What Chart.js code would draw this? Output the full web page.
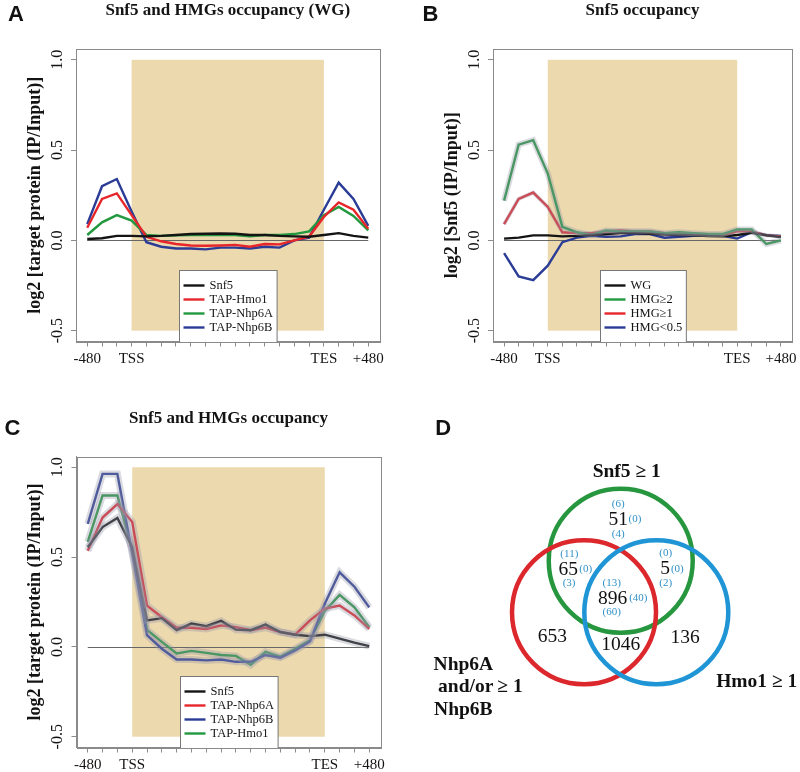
<!DOCTYPE html>
<html>
<head>
<meta charset="utf-8">
<script src="https://cdn.jsdelivr.net/npm/chart.js@4.4.1/dist/chart.umd.min.js"></script>
<style>
  body { margin: 0; background: #fff; width: 800px; height: 772px; position: relative; overflow: hidden; }
  canvas { position: absolute; }
</style>
</head>
<body>
<canvas id="chartA" width="400" height="385" style="left:0;top:0"></canvas>
<canvas id="chartB" width="400" height="385" style="left:400px;top:0"></canvas>
<canvas id="chartC" width="400" height="387" style="left:0;top:385px"></canvas>
<canvas id="chartD" width="400" height="387" style="left:400px;top:385px"></canvas>
<script>
// DATA
const binLabels = ["-480", "", "", "TSS", "", "", "", "", "", "", "", "", "", "", "", "", "TES", "", "", "+480"];
const yTickValues = [-0.5, 0, 0.5, 1.0];
const geneBody = { from: 3, to: 16, top: 1.0, bottom: -0.5 };

// A: Snf5 and HMGs occupancy (WG)
const aSnf5 = [0.008, 0.012, 0.025, 0.025, 0.022, 0.025, 0.03, 0.035, 0.037, 0.038, 0.037, 0.03, 0.03, 0.025, 0.022, 0.02, 0.03, 0.04, 0.025, 0.015];
const aHmo1 = [0.07, 0.23, 0.26, 0.14, 0.02, -0.005, -0.02, -0.028, -0.03, -0.028, -0.025, -0.035, -0.02, -0.022, 0.0, 0.02, 0.13, 0.21, 0.17, 0.065];
const aNhp6A = [0.03, 0.10, 0.14, 0.11, 0.03, 0.025, 0.028, 0.03, 0.03, 0.03, 0.03, 0.022, 0.03, 0.03, 0.035, 0.05, 0.14, 0.185, 0.135, 0.055];
const aNhp6B = [0.09, 0.30, 0.34, 0.16, -0.01, -0.035, -0.045, -0.045, -0.05, -0.04, -0.04, -0.045, -0.035, -0.04, 0.0, 0.015, 0.17, 0.32, 0.23, 0.08];

// B: Snf5 occupancy
const bWG = [0.01, 0.015, 0.028, 0.028, 0.022, 0.025, 0.03, 0.035, 0.04, 0.04, 0.037, 0.032, 0.03, 0.028, 0.024, 0.022, 0.03, 0.042, 0.028, 0.018];
const bHMG2 = [0.22, 0.53, 0.555, 0.37, 0.075, 0.045, 0.03, 0.055, 0.05, 0.05, 0.05, 0.04, 0.045, 0.04, 0.035, 0.035, 0.06, 0.06, -0.02, 0.0];
const bHMG1 = [0.09, 0.23, 0.265, 0.185, 0.045, 0.04, 0.04, 0.05, 0.055, 0.05, 0.05, 0.04, 0.035, 0.035, 0.03, 0.03, 0.05, 0.05, 0.028, 0.022];
const bHMG05 = [-0.07, -0.2, -0.22, -0.14, -0.01, 0.015, 0.025, 0.02, 0.022, 0.035, 0.035, 0.015, 0.02, 0.025, 0.025, 0.025, 0.01, 0.045, 0.03, 0.025];

// C: Snf5 and HMGs occupancy
const cSnf5 = [0.555, 0.667, 0.718, 0.555, 0.148, 0.16, 0.093, 0.13, 0.115, 0.145, 0.096, 0.093, 0.124, 0.083, 0.068, 0.06, 0.068, 0.046, 0.024, 0.004];
const cNhp6A = [0.535, 0.72, 0.795, 0.695, 0.23, 0.165, 0.107, 0.107, 0.1, 0.12, 0.11, 0.093, 0.107, 0.083, 0.068, 0.148, 0.213, 0.23, 0.175, 0.1];
const cNhp6B = [0.685, 0.963, 0.963, 0.52, 0.065, -0.01, -0.07, -0.07, -0.075, -0.07, -0.083, -0.083, -0.045, -0.06, -0.02, 0.03, 0.24, 0.415, 0.335, 0.22];
const cHmo1 = [0.585, 0.843, 0.843, 0.535, 0.095, 0.028, -0.037, -0.022, -0.033, -0.045, -0.05, -0.1, -0.028, -0.055, -0.01, 0.037, 0.2, 0.29, 0.22, 0.11];

// D: Venn counts
const vennSets = ["Snf5 ≥ 1", "Nhp6A and/or Nhp6B ≥ 1", "Hmo1 ≥ 1"];
const regionCounts = [51, 65, 5, 896, 653, 1046, 136];
const parenTop = [6, 11, 0, 13];
const parenSide = [0, 0, 0, 40];
const parenBottom = [4, 3, 2, 60];

// STYLE
const SERIF = '"Liberation Serif", "Times New Roman", serif';
const SANS = '"Liberation Sans", Arial, sans-serif';
const BLACK = "#141414";
const RED = "#e6262b";
const GREEN = "#22983f";
const BLUE = "#2b3c96";
const SHADE = "#ecd9ae";
const BAND = "rgba(150,150,170,0.35)";
const AXIS = "#8a8a8a";

function drawText(ctx, text, x, y, font, color, align, rotate) {
  ctx.save();
  ctx.translate(x, y);
  if (rotate) ctx.rotate(rotate);
  ctx.font = font;
  ctx.fillStyle = color;
  ctx.textAlign = align || "center";
  ctx.textBaseline = "middle";
  ctx.fillText(text, 0, 0);
  ctx.restore();
}

const toPoints = (values) => values.map((v, i) => ({ x: i, y: v }));

// profile decorations: shading, zero line, legend, box, labels
const profileDecor = {
  id: "profileDecor",
  beforeDatasetsDraw(chart, args, o) {
    const { ctx, scales: { x, y } } = chart;
    ctx.save();
    ctx.fillStyle = SHADE;
    const x1 = x.getPixelForValue(geneBody.from), x2 = x.getPixelForValue(geneBody.to);
    const y1 = y.getPixelForValue(geneBody.top), y2 = y.getPixelForValue(geneBody.bottom);
    ctx.fillRect(x1, y1, x2 - x1, y2 - y1);
    ctx.strokeStyle = "#666";
    ctx.lineWidth = 1;
    const y0 = Math.round(y.getPixelForValue(0)) + 0.5;
    ctx.beginPath();
    ctx.moveTo(x.getPixelForValue(0), y0);
    ctx.lineTo(x.getPixelForValue(binLabels.length - 1), y0);
    ctx.stroke();
    ctx.restore();
  },
  afterDatasetsDraw(chart, args, o) {
    const { ctx, chartArea: a } = chart;
    ctx.save();
    ctx.font = "12.5px " + SERIF;
    const tw = Math.max(...o.series.map((s) => ctx.measureText(s.label).width));
    const w = tw + 34, h = 72;
    const left = Math.round((a.left + a.right) / 2 - w / 2) + 0.5;
    const top = Math.round(a.bottom - h) + 0.5;
    ctx.fillStyle = "#fff";
    ctx.fillRect(left, top, w, h);
    ctx.strokeStyle = "#777";
    ctx.lineWidth = 1;
    ctx.strokeRect(left, top, w, h);
    o.series.forEach((s, i) => {
      const yy = top + 15 + i * 14;
      ctx.strokeStyle = s.color;
      ctx.lineWidth = 2.4;
      ctx.beginPath();
      ctx.moveTo(left + 4, yy);
      ctx.lineTo(left + 25, yy);
      ctx.stroke();
      drawText(ctx, s.label, left + 30, yy, "12.5px " + SERIF, BLACK, "left");
    });
    ctx.restore();
  },
  afterDraw(chart, args, o) {
    const { ctx, chartArea: a, scales: { y } } = chart;
    ctx.save();
    ctx.strokeStyle = AXIS;
    ctx.lineWidth = 1;
    ctx.strokeRect(Math.round(a.left) + 0.5, Math.round(a.top) + 0.5, Math.round(a.right - a.left), Math.round(a.bottom - a.top));
    yTickValues.forEach((v) => {
      drawText(ctx, v.toFixed(1), a.left - 18.5, y.getPixelForValue(v), "16px " + SERIF, BLACK, "center", -Math.PI / 2);
    });
    drawText(ctx, o.yTitle, a.left - 41, (a.top + a.bottom) / 2, "bold 18px " + SERIF, BLACK, "center", -Math.PI / 2);
    drawText(ctx, o.title, (a.left + a.right) / 2, a.top - 38, "bold 17px " + SERIF, BLACK, "center");
    drawText(ctx, o.letter[0], o.letter[1], o.letter[2], "bold 22px " + SANS, "#111", "center");
    ctx.restore();
  },
};

function profileChart(id, o) {
  const datasets = [];
  o.series.forEach((s) => {
    if (s.band) {
      datasets.push({ data: toPoints(s.values), borderColor: BAND, borderWidth: s.band, pointRadius: 0 });
    }
  });
  o.series.forEach((s) => {
    datasets.push({ label: s.label, data: toPoints(s.values), borderColor: s.color, borderWidth: 2.4, pointRadius: 0 });
  });
  const [L, R, T, B] = o.box;
  const canvas = document.getElementById(id);
  return new Chart(canvas, {
    type: "line",
    data: { datasets },
    plugins: [profileDecor],
    options: {
      responsive: false,
      animation: false,
      events: [],
      layout: { padding: { left: L - 40, right: canvas.width - R, top: T, bottom: canvas.height - B - 24 } },
      plugins: { legend: { display: false }, tooltip: { enabled: false }, profileDecor: o },
      elements: { line: { tension: 0 } },
      scales: {
        x: {
          type: "linear",
          min: -0.76,
          max: binLabels.length - 1 + 0.76,
          afterBuildTicks: (s) => { s.ticks = binLabels.map((_, i) => ({ value: i })); },
          afterFit: (s) => { s.height = 24; },
          grid: { drawOnChartArea: false, drawTicks: true, tickLength: 5, color: AXIS },
          border: { display: true, color: AXIS },
          ticks: {
            autoSkip: false, maxRotation: 0, padding: 3.5,
            color: BLACK, font: { family: SERIF, size: 15 },
            callback: (v) => binLabels[v] ?? "",
          },
        },
        y: {
          min: -0.56,
          max: 1.06,
          afterBuildTicks: (s) => { s.ticks = yTickValues.map((v) => ({ value: v })); },
          afterFit: (s) => { s.width = 40; },
          grid: { drawOnChartArea: false, drawTicks: true, tickLength: 5, color: AXIS },
          border: { display: true, color: AXIS },
          ticks: { callback: () => "", padding: 0 },
        },
      },
    },
  });
}

profileChart("chartA", {
  title: "Snf5 and HMGs occupancy (WG)",
  yTitle: "log2 [target protein (IP/Input)]",
  letter: ["A", 16, 14.5],
  box: [76, 379.5, 49, 341.5],
  series: [
    { label: "Snf5", values: aSnf5, color: BLACK },
    { label: "TAP-Hmo1", values: aHmo1, color: RED },
    { label: "TAP-Nhp6A", values: aNhp6A, color: GREEN },
    { label: "TAP-Nhp6B", values: aNhp6B, color: BLUE },
  ],
});

profileChart("chartB", {
  title: "Snf5 occupancy",
  yTitle: "log2 [Snf5 (IP/Input)]",
  letter: ["B", 30.5, 14.5],
  box: [93, 397, 49, 341.5],
  series: [
    { label: "WG", values: bWG, color: BLACK },
    { label: "HMG≥2", values: bHMG2, color: GREEN, band: 6 },
    { label: "HMG≥1", values: bHMG1, color: RED, band: 4 },
    { label: "HMG<0.5", values: bHMG05, color: BLUE },
  ],
});

profileChart("chartC", {
  title: "Snf5 and HMGs occupancy",
  yTitle: "log2 [target protein (IP/Input)]",
  letter: ["C", 12.5, 44],
  box: [76.5, 380.5, 71.5, 362.5],
  series: [
    { label: "Snf5", values: cSnf5, color: BLACK, band: 7 },
    { label: "TAP-Nhp6A", values: cNhp6A, color: RED, band: 7 },
    { label: "TAP-Nhp6B", values: cNhp6B, color: BLUE, band: 7 },
    { label: "TAP-Hmo1", values: cHmo1, color: GREEN, band: 7 },
  ],
});

// VENN (unit = circle radius)
const vennCenters = [[0.008, 0.717], [-0.502, 0], [0.502, 0]];
const vennColors = ["#27973f", "#dc282d", "#1f95d6"];
const regionPos = [[-0.026, 1.282], [-0.72, 0.588], [0.623, 0.601], [-0.103, 0.185], [-0.942, -0.347], [0.008, -0.454], [0.901, -0.361]];
const parenTopPos = [[-0.026, 1.5], [-0.706, 0.806], [0.633, 0.819], [-0.117, 0.403]];
const parenSidePos = [[0.206, 1.292], [-0.478, 0.601], [0.794, 0.601], [0.252, 0.194]];
const parenBottomPos = [[-0.026, 1.088], [-0.71, 0.403], [0.633, 0.403], [-0.117, 0.008]];

const vennText = {
  id: "vennText",
  afterDatasetsDraw(chart) {
    const { ctx, scales: { x, y } } = chart;
    const at = (p) => [x.getPixelForValue(p[0]), y.getPixelForValue(p[1])];
    const numFont = "19.5px " + SERIF, parFont = "11px " + SERIF, setFont = "bold 19.5px " + SERIF;
    const parColor = "#3191c9";
    regionCounts.forEach((n, i) => drawText(ctx, String(n), ...at(regionPos[i]), numFont, "#111"));
    parenTop.forEach((n, i) => drawText(ctx, `(${n})`, ...at(parenTopPos[i]), parFont, parColor));
    parenSide.forEach((n, i) => drawText(ctx, `(${n})`, ...at(parenSidePos[i]), parFont, parColor));
    parenBottom.forEach((n, i) => drawText(ctx, `(${n})`, ...at(parenBottomPos[i]), parFont, parColor));
    drawText(ctx, vennSets[0], ...at([0.091, 1.953]), setFont, "#111");
    drawText(ctx, vennSets[2], ...at([1.897, -0.964]), setFont, "#111");
    drawText(ctx, "Nhp6A", ...at([-2.178, -0.732]), setFont, "#111");
    drawText(ctx, "and/or", ...at([-2.145, -1.033]), setFont, "#111");
    drawText(ctx, "Nhp6B", ...at([-2.178, -1.357]), setFont, "#111");
    drawText(ctx, "≥ 1", ...at([-1.53, -1.033]), setFont, "#111");
    drawText(ctx, "D", 43.3, 44, "bold 22px " + SANS, "#111");
  },
};

// one scale unit (circle radius) in pixels
const unitRadius = (c) => c.chart.scales.x.getPixelForValue(1) - c.chart.scales.x.getPixelForValue(0);

new Chart(document.getElementById("chartD"), {
  type: "scatter",
  data: {
    datasets: [{
      data: vennCenters.map(([cx, cy]) => ({ x: cx, y: cy })),
      pointBorderColor: vennColors,
      pointBackgroundColor: "rgba(0,0,0,0)",
      pointBorderWidth: 4.5,
      pointRadius: unitRadius,
      showLine: false,
      clip: false,
    }],
  },
  plugins: [vennText],
  options: {
    responsive: false,
    animation: false,
    events: [],
    layout: { padding: 0 },
    plugins: { legend: { display: false }, tooltip: { enabled: false } },
    scales: {
      x: { type: "linear", display: false, min: -3.058, max: 2.498 },
      y: { type: "linear", display: false, min: -2.218, max: 3.157 },
    },
  },
});
</script>
</body>
</html>
